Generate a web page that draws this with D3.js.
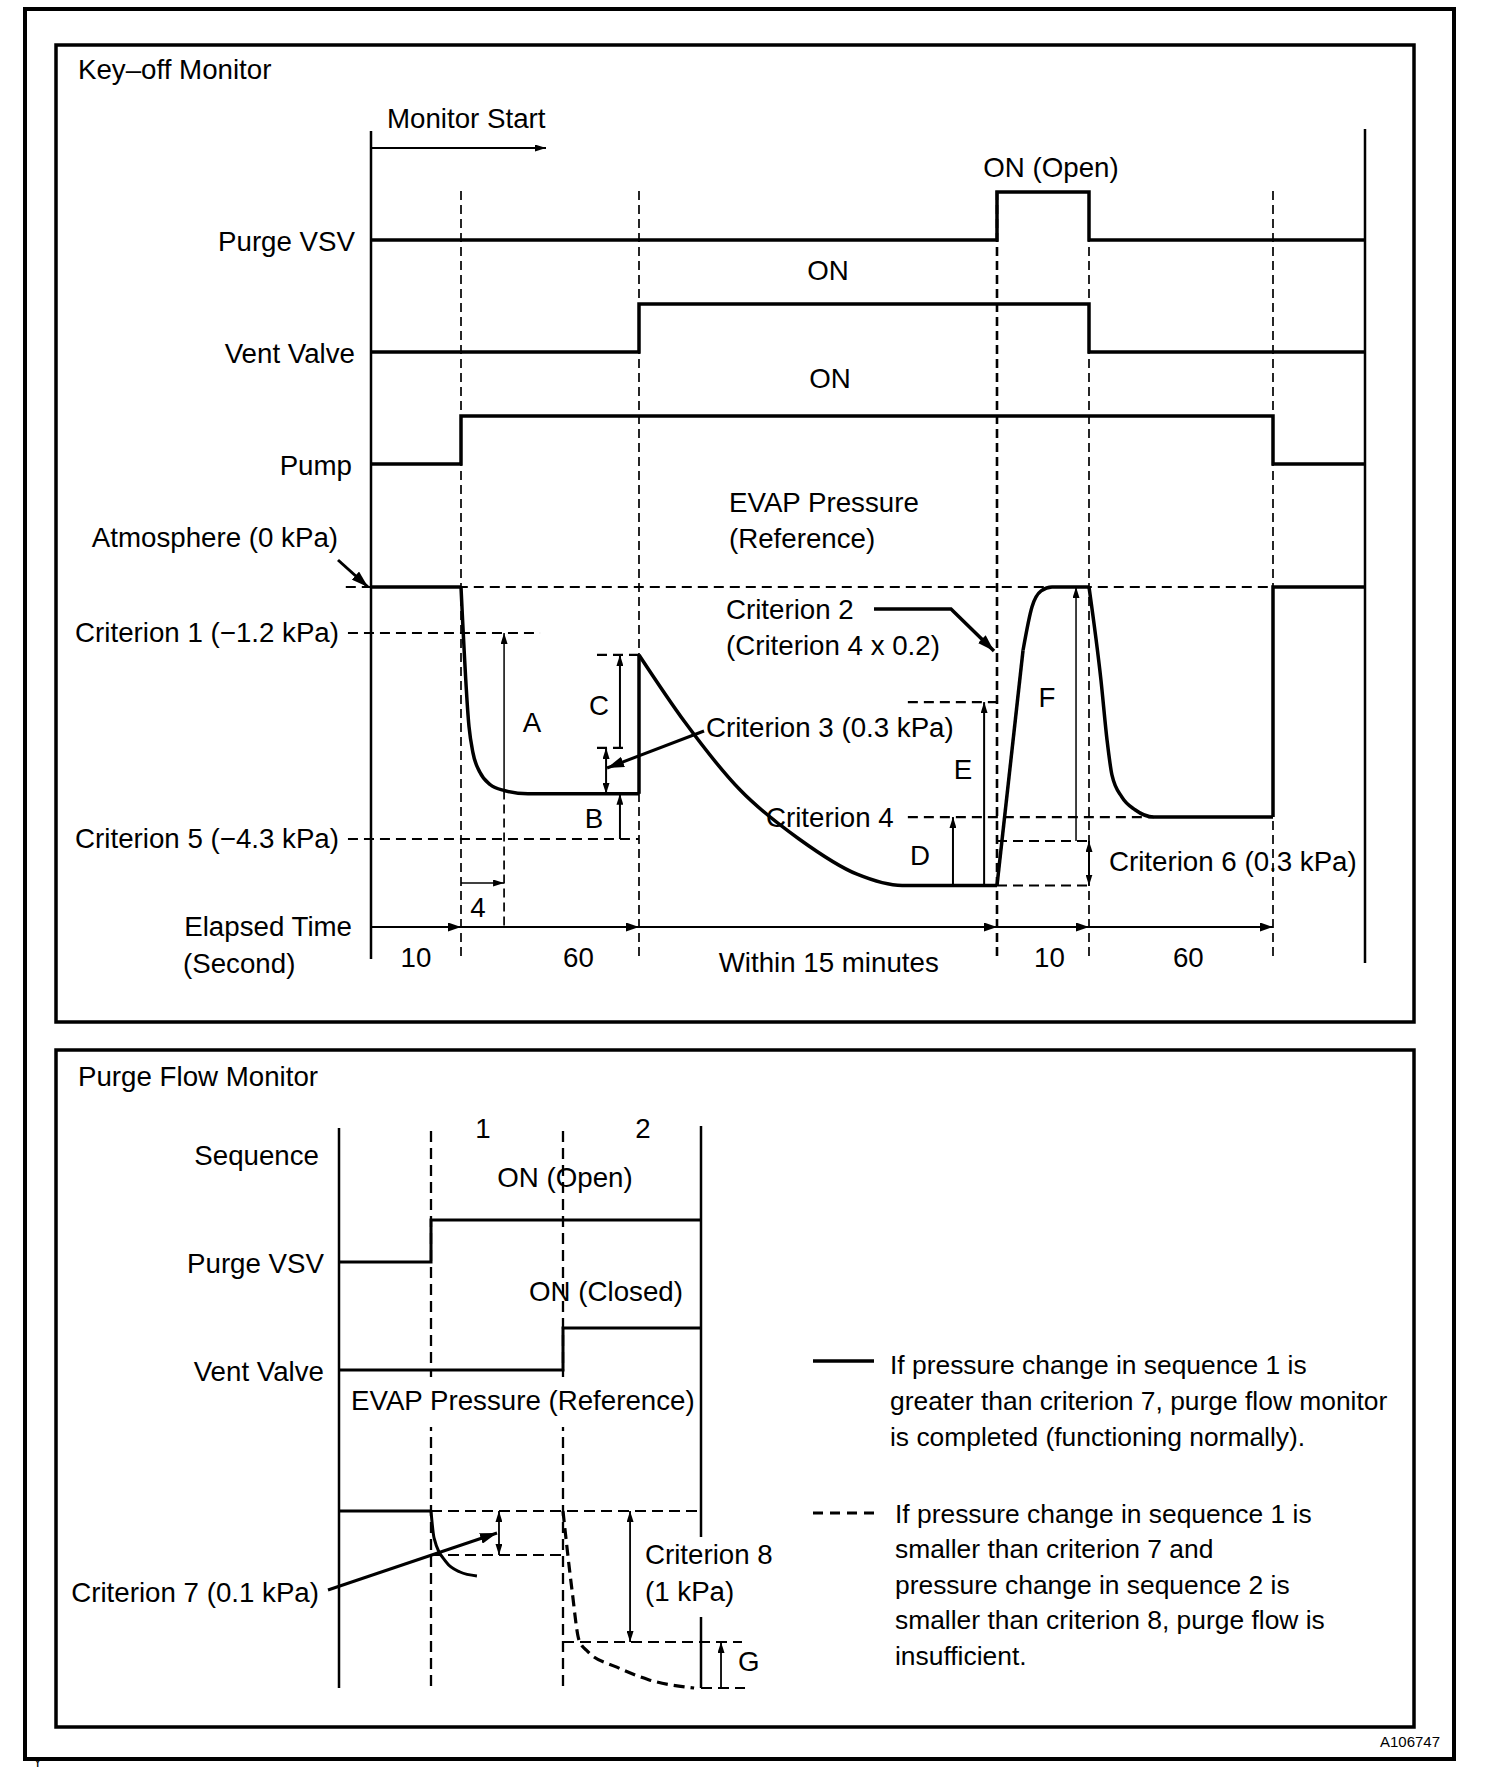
<!DOCTYPE html>
<html>
<head>
<meta charset="utf-8">
<script src="https://cdn.jsdelivr.net/npm/d3@7"></script>
<style>
body { margin: 0; background: #fff; }
svg text { font-family: "Liberation Sans", Arial, Helvetica, sans-serif; font-size: 27.7px; fill: #000; }
</style>
</head>
<body>
<script>
/***** chart data *****/

// key-off monitor: on/off state of each signal per phase (6 phases)
var topSignals = ["Purge VSV", "Vent Valve", "Pump"];
var purgeVsvTop = [0, 0, 0, 1, 0, 0];
var ventValveTop = [0, 0, 1, 1, 0, 0];
var pumpTop = [0, 1, 1, 1, 1, 0];

// elapsed time segments (seconds / text) and where they sit in phase units
var durationLabels = ["10", "60", "Within 15 minutes", "10", "60"];
var durationAt = [0.5, 1.66, 2.53, 3.57, 4.54];

// pressure levels (kPa)
var levelNames = ["Atmosphere (0 kPa)", "Criterion 1 (\u22121.2 kPa)", "Criterion 5 (\u22124.3 kPa)"];
var levelValues = [0, -1.2, -4.3];

// EVAP pressure trace, [phase, kPa]
var evapLinearTop = [
    [[0, 0], [1, 0]],
    [[2, -3.62], [2, -1.53]],
    [[3, -5], [3.283, -1.46]],
    [[5, -3.97], [5, 0], [6, 0]]
];
var evapCurveTop = [
    [[1, 0], [1.045, -2.61], [1.067, -3.0], [1.107, -3.3], [1.163, -3.48], [1.242, -3.57], [1.376, -3.62], [2, -3.62]],
    [[2, -1.53], [2.128, -2.54], [2.282, -3.56], [2.447, -4.3], [2.609, -4.83], [2.735, -5], [3, -5]],
    [[3.283, -1.46], [3.38, -0.52], [3.48, -0.1], [3.598, 0], [4, 0]],
    [[4, 0], [4.065, -1.91], [4.098, -2.81], [4.125, -3.34], [4.179, -3.67], [4.25, -3.86], [4.353, -3.97], [5, -3.97]]
];

// dashed reference levels: [phase from, phase to, kPa]
var dashLevelsTop = [
    [-0.28, 5, 0],
    [-0.256, 1.444, -1.2],
    [-0.256, 2, -4.3],
    [1.764, 2, -1.53],
    [1.764, 1.921, -2.93],
    [2.751, 3, -2.24],
    [2.751, 4.353, -3.97],
    [3, 4, -4.33],
    [3, 4, -5]
];
// measure arrows: [phase, kPa from, kPa to, double?, width]
var measureTop = [
    [1.242, -3.57, -1.2, 0, 1.5],   // A
    [1.893, -2.93, -1.53, 0, 2],    // C
    [1.815, -2.93, -3.62, 1, 2],    // criterion 3
    [1.893, -4.3, -3.62, 0, 2],     // B
    [2.877, -5, -3.97, 0, 2],       // D
    [2.964, -5, -2.24, 0, 2],       // E
    [3.859, -4.33, 0, 0, 1.5],      // F
    [4, -4.33, -5, 1, 2]            // criterion 6
];
var letterTop = [["A", 532, 722], ["C", 599, 705], ["B", 594, 818], ["D", 920, 855], ["E", 963, 769], ["F", 1047, 697]];

// purge flow monitor
var purgeVsvBottom = [0, 1, 1];
var ventValveBottom = [0, 0, 1];
var evapSolidBottom = [[1, 0], [1.023, -0.061], [1.114, -0.172], [1.22, -0.276], [1.348, -0.317]];
var evapDashedBottom = [[2, 0], [2.065, -0.46], [2.116, -0.98], [2.18, -1.1], [2.39, -1.26], [2.62, -1.39], [2.95, -1.476]];
var dashLevelsBottom = [
    [1, 3, 0],
    [1, 2, -0.1],
    [2, 3.297, -1],
    [3, 3.319, -1.476]
];
var measureBottom = [
    [1.515, 0, -0.1, 1],
    [2.486, 0, -1, 1],
    [3.145, -1.476, -1, 0]
];
var legendSolid = ["If pressure change in sequence 1 is", "greater than criterion 7, purge flow monitor", "is completed (functioning normally)."];
var legendDashed = ["If pressure change in sequence 1 is", "smaller than criterion 7 and", "pressure change in sequence 2 is", "smaller than criterion 8, purge flow is", "insufficient."];

/***** drawing *****/

var width = 1504, height = 1790;

var svg = d3.select("body").append("svg")
    .attr("width", width)
    .attr("height", height);

var defs = svg.append("defs");
function marker(id, w, h) {
    defs.append("marker")
        .attr("id", id)
        .attr("viewBox", "0 0 " + w + " " + h)
        .attr("refX", w).attr("refY", h / 2)
        .attr("markerWidth", w).attr("markerHeight", h)
        .attr("markerUnits", "userSpaceOnUse")
        .attr("orient", "auto-start-reverse")
        .append("path")
        .attr("d", "M0,0L" + w + "," + (h / 2) + "L0," + h + "Z")
        .attr("fill", "#000");
}
marker("ah", 13, 9);
marker("ahs", 11, 7);
marker("ahl", 17, 11);

function label(x, y, txt, anchor, size) {
    var t = svg.append("text")
        .attr("x", x).attr("y", y).attr("dy", "0.36em")
        .attr("text-anchor", anchor || "start")
        .text(txt);
    if (size) t.style("font-size", size + "px");
    return t;
}
function path(d, w, dash) {
    return svg.append("path")
        .attr("d", d)
        .attr("fill", "none")
        .attr("stroke", "#000")
        .attr("stroke-width", w)
        .attr("stroke-dasharray", dash || null);
}

// frames
svg.append("rect").attr("x", 25).attr("y", 9).attr("width", 1429).attr("height", 1750)
    .attr("fill", "none").attr("stroke", "#000").attr("stroke-width", 4);
svg.append("rect").attr("x", 56).attr("y", 45).attr("width", 1358).attr("height", 977)
    .attr("fill", "none").attr("stroke", "#000").attr("stroke-width", 3.5);
svg.append("rect").attr("x", 56).attr("y", 1050).attr("width", 1358).attr("height", 677)
    .attr("fill", "none").attr("stroke", "#000").attr("stroke-width", 3.5);

label(78, 69, "Key\u2013off Monitor");
label(78, 1076, "Purge Flow Monitor");
label(1440, 1742, "A106747", "end", 15);
label(33, 1762, "Y", "start", 14);

/* ---------- key-off monitor ---------- */
var xT = d3.scaleLinear().domain([0, 1, 2, 3, 4, 5, 6]).range([371, 461, 639, 997, 1089, 1273, 1365]);
var yP = d3.scaleLinear().domain(levelValues).range([587, 633, 839]);
var rowT = d3.scalePoint().domain(topSignals).range([240, 464]);
var stepT = 48;
var elapsedY = 927;

var lineT = d3.line().x(function (d) { return xT(d[0]); }).y(function (d) { return yP(d[1]); });
var curveT = d3.line().x(function (d) { return xT(d[0]); }).y(function (d) { return yP(d[1]); }).curve(d3.curveMonotoneX);

// axes and phase boundaries
path(d3.line()([[xT(0), 131], [xT(0), 959]]), 2.5);
path(d3.line()([[xT(6), 129], [xT(6), 963]]), 2.5);
[1, 2, 3, 4, 5].forEach(function (p) {
    path(d3.line()([[xT(p), 191], [xT(p), 960]]), p === 3 ? 2.6 : 1.7, "9,5");
});

// monitor start
label(387, 118, "Monitor Start");
path(d3.line()([[xT(0), 148], [546, 148]]), 1.8).attr("marker-end", "url(#ahs)");

// on/off signals
[purgeVsvTop, ventValveTop, pumpTop].forEach(function (states, i) {
    var name = topSignals[i];
    var pts = states.map(function (s, k) { return [k, s]; });
    pts.push([6, states[states.length - 1]]);
    var ln = d3.line()
        .x(function (d) { return xT(d[0]); })
        .y(function (d) { return rowT(name) - d[1] * stepT; })
        .curve(d3.curveStepAfter);
    path(ln(pts), 3.5);
    label(name === "Pump" ? 352 : 355, rowT(name) + 1, name, "end");
});
label(1051, 167, "ON (Open)", "middle");
label(828, 270, "ON", "middle");
label(830, 378, "ON", "middle");
label(729, 502, "EVAP Pressure");
label(729, 538, "(Reference)");

// dashed reference levels
dashLevelsTop.forEach(function (d) {
    path(lineT([[d[0], d[2]], [d[1], d[2]]]), 2.2, "10,6");
});

// pressure trace
evapLinearTop.forEach(function (s) { path(lineT(s), 3.5); });
evapCurveTop.forEach(function (s) { path(curveT(s), 3.5); });

// level labels
label(338, 537, levelNames[0], "end");
label(339, yP(levelValues[1]) - 1, levelNames[1], "end");
label(339, yP(levelValues[2]) - 1, levelNames[2], "end");
path(d3.line()([[338, 560], [xT(-0.033), yP(0)]]), 3).attr("marker-end", "url(#ahl)");

// measurement arrows
measureTop.forEach(function (m) {
    var p = path(lineT([[m[0], m[1]], [m[0], m[2]]]), m[4]).attr("marker-end", "url(#ahs)");
    if (m[3]) p.attr("marker-start", "url(#ahs)");
});
letterTop.forEach(function (t) { label(t[1], t[2], t[0], "middle"); });

// 4 second marker
path(d3.line()([[xT(1.242), yP(-3.57)], [xT(1.242), elapsedY]]), 1.7, "9,5");
path(d3.line()([[xT(1), 883], [xT(1.242), 883]]), 1.7).attr("marker-end", "url(#ahs)");
label(478, 907, "4", "middle");

// criterion leaders
label(706, 727, "Criterion 3 (0.3 kPa)");
path(d3.line()([[704, 731], [xT(1.815) + 1, 768]]), 3).attr("marker-end", "url(#ahl)");
label(726, 609, "Criterion 2");
label(726, 645, "(Criterion 4 x 0.2)");
path(d3.line()([[874, 609], [951, 609], [xT(3) - 3, 651]]), 3.5).attr("marker-end", "url(#ahl)");
label(766, 817, "Criterion 4");
label(1109, 861, "Criterion 6 (0.3 kPa)");

// elapsed time
label(352, 926, "Elapsed Time", "end");
label(183, 963, "(Second)");
[0, 1, 2, 3, 4].forEach(function (p) {
    path(d3.line()([[xT(p), elapsedY], [xT(p + 1), elapsedY]]), 1.8).attr("marker-end", "url(#ah)");
});
durationLabels.forEach(function (t, i) {
    label(xT(durationAt[i]), i === 2 ? 962 : 957, t, "middle");
});

/* ---------- purge flow monitor ---------- */
var xB = d3.scaleLinear().domain([0, 1, 2, 3]).range([339, 431, 563, 701]);
var yQ = d3.scaleLinear().domain([0, -0.1, -1]).range([1511, 1555, 1642]);
var rowB = d3.scalePoint().domain(["Purge VSV", "Vent Valve"]).range([1262, 1370]);
var stepB = 42;

var lineB = d3.line().x(function (d) { return xB(d[0]); }).y(function (d) { return yQ(d[1]); });
var curveB = d3.line().x(function (d) { return xB(d[0]); }).y(function (d) { return yQ(d[1]); }).curve(d3.curveMonotoneX);

path(d3.line()([[xB(0), 1128], [xB(0), 1688]]), 2.5);
path(d3.line()([[xB(3), 1126], [xB(3), 1537]]), 2.5);
path(d3.line()([[xB(3), 1617], [xB(3), 1688]]), 2.5);
[1, 2].forEach(function (p) {
    path(d3.line()([[xB(p), 1131], [xB(p), 1688]]), 2.3, "11,6");
});

label(483, 1128, "1", "middle");
label(643, 1128, "2", "middle");
label(319, 1155, "Sequence", "end");

[purgeVsvBottom, ventValveBottom].forEach(function (states, i) {
    var name = rowB.domain()[i];
    var pts = states.map(function (s, k) { return [k, s]; });
    pts.push([3, states[states.length - 1]]);
    var ln = d3.line()
        .x(function (d) { return xB(d[0]); })
        .y(function (d) { return rowB(name) - d[1] * stepB; })
        .curve(d3.curveStepAfter);
    path(ln(pts), 3);
    label(324, rowB(name) + 1, name, "end");
});
label(565, 1177, "ON (Open)", "middle");
label(606, 1291, "ON (Closed)", "middle");

svg.append("rect").attr("x", 346).attr("y", 1377).attr("width", 352).attr("height", 50).attr("fill", "#fff");
label(351, 1400, "EVAP Pressure (Reference)");

// pressure
path(lineB([[0, 0], [1, 0]]), 3);
dashLevelsBottom.forEach(function (d) {
    path(lineB([[d[0], d[2]], [d[1], d[2]]]), 2.2, "11,6");
});
path(curveB(evapSolidBottom), 3);
path(curveB(evapDashedBottom), 3.2, "11,6");

measureBottom.forEach(function (m) {
    var p = path(lineB([[m[0], m[1]], [m[0], m[2]]]), 1.8).attr("marker-end", "url(#ahs)");
    if (m[3]) p.attr("marker-start", "url(#ahs)");
});

label(319, 1592, "Criterion 7 (0.1 kPa)", "end");
path(d3.line()([[328, 1590], [xB(1.5), 1533]]), 3).attr("marker-end", "url(#ahl)");
label(645, 1554, "Criterion 8");
label(645, 1591, "(1 kPa)");
label(738, 1661, "G");

// legend
path(d3.line()([[813, 1361], [874, 1361]]), 3.5);
legendSolid.forEach(function (t, i) { label(890, 1364 + i * 36, t, "start", 26.4); });
path(d3.line()([[813, 1513], [874, 1513]]), 3, "10,7");
legendDashed.forEach(function (t, i) { label(895, 1513 + i * 35.5, t, "start", 26.4); });
</script>
</body>
</html>
